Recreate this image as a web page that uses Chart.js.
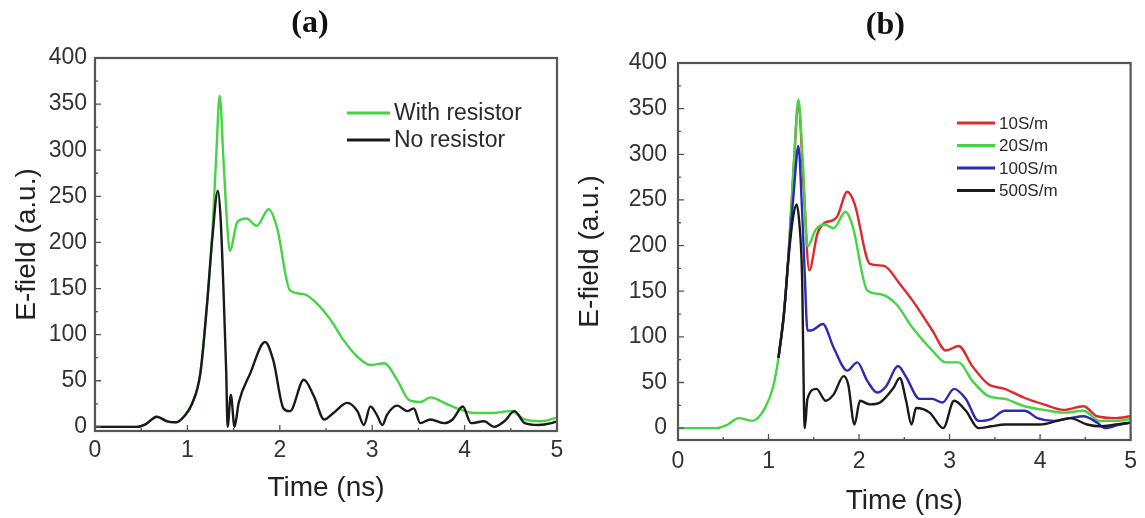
<!DOCTYPE html>
<html>
<head>
<meta charset="utf-8">
<script src="https://cdn.jsdelivr.net/npm/chart.js@4.4.0/dist/chart.umd.min.js"></script>
<style>
  html, body { margin: 0; padding: 0; background: #fff; }
  #wrap { position: relative; width: 1145px; height: 518px; }
  .panel { position: absolute; top: 0; height: 518px; }
  #pa { left: 0; width: 572px; }
  #pb { left: 572px; width: 573px; }
</style>
</head>
<body>
<div id="wrap">
  <div class="panel" id="pa"><canvas id="chartA"></canvas></div>
  <div class="panel" id="pb"><canvas id="chartB"></canvas></div>
</div>
<script>
const xTicks = [0, 1, 2, 3, 4, 5];
const yTicks = [0, 50, 100, 150, 200, 250, 300, 350, 400];

// panel (a)
const withResT = [0, 0.45, 0.55, 0.67, 0.78, 0.88, 0.97, 1.05, 1.14, 1.21, 1.27, 1.31, 1.35, 1.39, 1.43, 1.46, 1.54, 1.64, 1.75, 1.88, 1.97, 2.11, 2.26, 2.40, 2.55, 2.69, 2.84, 2.98, 3.13, 3.27, 3.40, 3.52, 3.63, 3.78, 3.92, 4.10, 4.28, 4.50, 4.65, 4.83, 5.0];
const withResV = [0, 0, 3, 11, 6, 5, 12, 25, 58, 130, 210, 290, 359, 290, 220, 191, 222, 226, 218, 236, 216, 148, 144, 134, 116, 94, 76, 67, 69, 51, 29, 27, 32, 26, 20, 15, 15, 17, 8, 6, 10];
const noResT = [0, 0.45, 0.55, 0.67, 0.78, 0.88, 0.97, 1.05, 1.14, 1.21, 1.27, 1.33, 1.36, 1.39, 1.42, 1.435, 1.47, 1.51, 1.555, 1.68, 1.84, 1.93, 2.04, 2.11, 2.26, 2.37, 2.48, 2.58, 2.73, 2.84, 2.91, 2.98, 3.05, 3.11, 3.16, 3.27, 3.38, 3.45, 3.52, 3.63, 3.78, 3.87, 3.98, 4.07, 4.21, 4.32, 4.43, 4.54, 4.65, 4.80, 4.94, 5.0];
const noResV = [0, 0, 3, 11, 6, 5, 12, 25, 58, 130, 205, 256, 225, 150, 60, 0, 35, 0, 26, 58, 92, 72, 20, 17, 51, 33, 8, 15, 26, 17, 2, 22, 13, 2, 13, 23, 17, 20, 4, 8, 4, 8, 22, 4, 6, 0, 6, 17, 4, 2, 4, 6];

// panel (b)
const s20T = [0, 0.42, 0.55, 0.67, 0.82, 0.96, 1.05, 1.11, 1.17, 1.22, 1.28, 1.33, 1.38, 1.43, 1.52, 1.62, 1.72, 1.85, 1.93, 2.09, 2.23, 2.41, 2.59, 2.81, 2.96, 3.10, 3.25, 3.43, 3.61, 3.83, 4.04, 4.26, 4.48, 4.66, 4.84, 5.0];
const s20V = [0, 0, 4, 11, 8, 22, 45, 77, 125, 188, 290, 360, 290, 199, 217, 223, 219, 237, 221, 151, 147, 136, 110, 85, 72, 72, 52, 35, 32, 24, 20, 17, 19, 8, 8, 10];
const s10T = [1.11, 1.17, 1.22, 1.28, 1.33, 1.39, 1.45, 1.54, 1.62, 1.69, 1.76, 1.87, 1.95, 2.12, 2.27, 2.45, 2.59, 2.81, 2.96, 3.10, 3.25, 3.43, 3.61, 3.83, 4.04, 4.26, 4.48, 4.63, 4.84, 5.0];
const s10V = [77, 125, 188, 290, 355, 260, 173, 213, 225, 227, 232, 259, 246, 180, 178, 158, 140, 107, 85, 90, 68, 48, 43, 33, 26, 20, 24, 13, 11, 13];
const s100T = [1.11, 1.17, 1.22, 1.28, 1.33, 1.37, 1.40, 1.43, 1.47, 1.60, 1.72, 1.87, 1.98, 2.09, 2.20, 2.30, 2.43, 2.52, 2.67, 2.81, 2.92, 3.05, 3.18, 3.32, 3.46, 3.61, 3.83, 3.97, 4.15, 4.33, 4.48, 4.63, 4.72, 4.88, 5.0];
const s100V = [77, 125, 188, 260, 309, 240, 169, 107, 107, 114, 88, 63, 72, 52, 39, 46, 68, 56, 32, 32, 28, 43, 32, 8, 10, 19, 19, 11, 8, 11, 13, 6, 0, 4, 6];
const s500T = [1.11, 1.17, 1.22, 1.27, 1.31, 1.34, 1.37, 1.40, 1.43, 1.53, 1.63, 1.72, 1.83, 1.88, 1.95, 2.01, 2.12, 2.23, 2.38, 2.45, 2.52, 2.58, 2.63, 2.78, 2.93, 3.05, 3.18, 3.32, 3.46, 3.61, 3.83, 4.0, 4.19, 4.33, 4.52, 4.66, 4.84, 5.0];
const s500V = [77, 125, 185, 230, 245, 225, 169, 0, 32, 43, 30, 37, 57, 48, 4, 30, 26, 28, 44, 55, 30, 4, 22, 17, 0, 30, 19, 0, 2, 4, 4, 4, 8, 11, 4, 2, 4, 6];

const GREEN = '#44d444';
const BLACK = '#1a1a1a';
const RED = '#e0282c';
const BLUE = '#2b2bb8';
const SANS = '"Liberation Sans", Arial, sans-serif';

function line(label, t, v, color, order) {
    return {
        label: label,
        data: t.map((x, i) => ({ x: x, y: v[i] })),
        borderColor: color,
        backgroundColor: color,
        borderWidth: 2.4,
        pointRadius: 0,
        cubicInterpolationMode: 'monotone',
        order: order
    };
}

// box, inward ticks, legend and the (a)/(b) label
const framePlugin = {
    id: 'frame',
    afterDatasetsDraw(chart, args, opts) {
        const { ctx, chartArea: a, scales: { x, y } } = chart;
        ctx.save();
        ctx.strokeStyle = '#555';
        ctx.lineWidth = 1.3;
        ctx.beginPath();
        xTicks.forEach((v, i) => {
            const px = x.getPixelForValue(v);
            ctx.moveTo(px, a.bottom); ctx.lineTo(px, a.bottom - 6);
            if (i < xTicks.length - 1) {
                const pm = x.getPixelForValue(v + 0.5);
                ctx.moveTo(pm, a.bottom); ctx.lineTo(pm, a.bottom - 3);
            }
        });
        yTicks.forEach((v, i) => {
            const py = y.getPixelForValue(v);
            ctx.moveTo(a.left, py); ctx.lineTo(a.left + 6, py);
            if (i < yTicks.length - 1) {
                const pm = y.getPixelForValue(v + 25);
                ctx.moveTo(a.left, pm); ctx.lineTo(a.left + 3, pm);
            }
        });
        ctx.stroke();
        ctx.lineWidth = 2.2;
        ctx.strokeRect(a.left, a.top, a.right - a.left, a.bottom - a.top);

        const lg = opts.legend;
        chart.data.datasets.forEach((ds, i) => {
            const yy = a.top + lg.top + i * lg.gap;
            ctx.strokeStyle = ds.borderColor;
            ctx.lineWidth = 3;
            ctx.beginPath();
            ctx.moveTo(a.left + lg.x0, yy);
            ctx.lineTo(a.left + lg.x1, yy);
            ctx.stroke();
            ctx.fillStyle = '#2a2a2a';
            ctx.font = lg.size + 'px ' + SANS;
            ctx.textAlign = 'left';
            ctx.textBaseline = 'middle';
            ctx.fillText(ds.label, a.left + lg.x1 + 4, yy + 1);
        });

        ctx.fillStyle = '#111';
        ctx.font = 'bold 32px "Liberation Serif", "Times New Roman", serif';
        ctx.textAlign = 'center';
        ctx.textBaseline = 'middle';
        ctx.fillText(opts.title, (a.left + a.right) / 2 + opts.titleDx, opts.titleY);
        ctx.restore();
    }
};

function makeChart(id, datasets, p) {
    return new Chart(document.getElementById(id), {
        type: 'line',
        data: { datasets: datasets },
        options: {
            responsive: true,
            maintainAspectRatio: false,
            animation: false,
            layout: { padding: { left: 0, right: p.padRight, top: p.padTop, bottom: 0 } },
            plugins: {
                legend: { display: false },
                tooltip: { enabled: false },
                frame: { legend: p.legend, title: p.title, titleDx: p.titleDx, titleY: p.titleY }
            },
            scales: {
                x: {
                    type: 'linear',
                    min: 0,
                    max: 5,
                    grid: { display: false, drawTicks: false },
                    border: { display: false },
                    afterBuildTicks: s => { s.ticks = xTicks.map(v => ({ value: v })); },
                    afterFit: s => { s.height = p.xH; },
                    ticks: { font: { family: SANS, size: 23 }, color: '#333', padding: p.xPad, maxRotation: 0 },
                    title: {
                        display: true,
                        text: 'Time (ns)',
                        font: { family: SANS, size: 28 },
                        color: '#222',
                        padding: { top: 0, bottom: p.xTitlePad }
                    }
                },
                y: {
                    min: p.yMin,
                    max: 400,
                    grid: { display: false, drawTicks: false },
                    border: { display: false },
                    afterBuildTicks: s => { s.ticks = yTicks.map(v => ({ value: v })); },
                    afterFit: s => { s.width = p.yW; },
                    ticks: { font: { family: SANS, size: 23 }, color: '#333', padding: p.yPad },
                    title: {
                        display: true,
                        text: 'E-field (a.u.)',
                        font: { family: SANS, size: 28 },
                        color: '#222',
                        padding: { top: p.yTitlePad, bottom: 0 }
                    }
                }
            }
        },
        plugins: [framePlugin]
    });
}

makeChart('chartA', [
    line('With resistor', withResT, withResV, GREEN, 1),
    line('No resistor', noResT, noResV, BLACK, 0)
], {
    padTop: 58, padRight: 15, xH: 87, yW: 95, yMin: -4.5,
    xPad: 6, yPad: 8, xTitlePad: 13, yTitlePad: 10,
    title: '(a)', titleDx: -16, titleY: 24,
    legend: { x0: 252, x1: 295, top: 55, gap: 27, size: 23 }
});

makeChart('chartB', [
    line('10S/m', s10T, s10V, RED, 3),
    line('20S/m', s20T, s20V, GREEN, 2),
    line('100S/m', s100T, s100V, BLUE, 1),
    line('500S/m', s500T, s500V, BLACK, 0)
], {
    padTop: 63, padRight: 5, xH: 78, yW: 106, yMin: -13,
    xPad: 8, yPad: 11, xTitlePad: 0, yTitlePad: 1,
    title: '(b)', titleDx: -19, titleY: 26,
    legend: { x0: 279, x1: 317, top: 60, gap: 22.5, size: 17 }
});
</script>
</body>
</html>
